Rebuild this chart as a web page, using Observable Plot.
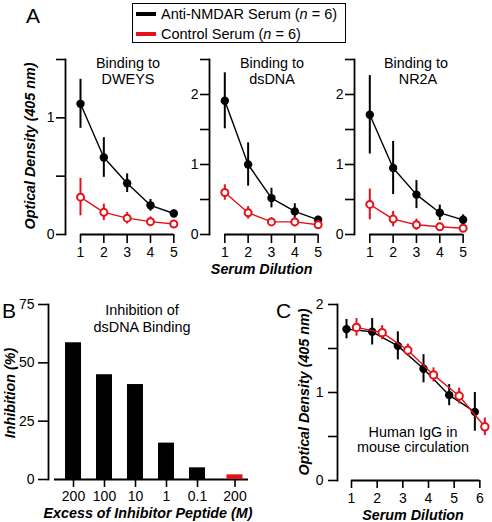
<!DOCTYPE html>
<html>
<head>
<meta charset="utf-8">
<script src="https://cdn.jsdelivr.net/npm/d3@7"></script>
<script src="https://cdn.jsdelivr.net/npm/@observablehq/plot@0.6"></script>
<style>
  body { margin: 0; background: #fff; }
  #fig { position: relative; width: 492px; height: 522px; overflow: hidden;
         font-family: "Liberation Sans", Arial, sans-serif; color: #000; background: #fff; }
  #fig svg { position: absolute; left: 0; top: 0; }
  .t { position: absolute; white-space: nowrap; line-height: 1; font-size: 14.4px;
       transform: translate(-50%, -50%); }
  .lab { font-weight: bold; font-style: italic; font-size: 14.3px; }
  .rot { transform: translate(-50%, -50%) rotate(-90deg); }
  .letter { font-size: 21px; }
  #legend { position: absolute; left: 132px; top: 3px; width: 212px; height: 38px;
            border: 1.5px solid #000; font-size: 14.5px; line-height: 1; }
  #legend .row { position: absolute; left: 3px; white-space: nowrap; }
  #legend .sw { display: inline-block; width: 20px; height: 4px; vertical-align: middle;
                margin-right: 5px; position: relative; top: -1px; }
</style>
</head>
<body>
<div id="fig"></div>
<script>
// ---------- data ----------
const dilutionsA = [1, 2, 3, 4, 5];

const dweysAntiMean = [1.12, 0.66, 0.44, 0.25, 0.18];
const dweysAntiErr  = [0.21, 0.17, 0.08, 0.05, 0.03];
const dweysCtrlMean = [0.32, 0.19, 0.14, 0.11, 0.09];
const dweysCtrlErr  = [0.16, 0.07, 0.05, 0.04, 0.03];

const dsdnaAntiMean = [1.91, 1.00, 0.52, 0.33, 0.21];
const dsdnaAntiErr  = [0.40, 0.31, 0.14, 0.11, 0.05];
const dsdnaCtrlMean = [0.60, 0.31, 0.18, 0.18, 0.14];
const dsdnaCtrlErr  = [0.11, 0.09, 0.06, 0.07, 0.06];

const nr2aAntiMean = [1.71, 0.95, 0.57, 0.31, 0.21];
const nr2aAntiErr  = [0.56, 0.38, 0.20, 0.11, 0.07];
const nr2aCtrlMean = [0.43, 0.22, 0.14, 0.11, 0.09];
const nr2aCtrlErr  = [0.22, 0.11, 0.08, 0.05, 0.03];

const peptideLabels = ["200", "100", "10", "1", "0.1", "200"];
const inhibition    = [58.6, 44.9, 40.7, 15.6, 5.0, 2.0];
const peptideSerum  = ["anti", "anti", "anti", "anti", "anti", "control"];

const dilutionsC = [1, 2, 3, 4, 5, 6];
const igAntiMean = [1.72, 1.69, 1.53, 1.27, 0.97, 0.78];
const igAntiErr  = [0.11, 0.15, 0.16, 0.16, 0.12, 0.22];
const igCtrlMean = [1.74, 1.68, 1.48, 1.20, 0.96, 0.61];
const igCtrlErr  = [0.10, 0.08, 0.07, 0.08, 0.09, 0.10];

const BLACK = "#000000";
const RED = "#e3121b";

// ---------- helpers ----------
const rows = (xs, mean, err) => xs.map((x, i) => ({x, y: mean[i], lo: mean[i] - err[i], hi: mean[i] + err[i]}));

function seriesMarks(data, color, filled, r, dx = 0) {
  return [
    Plot.line(data, {x: "x", y: "y", stroke: color, strokeWidth: 1.4, dx}),
    Plot.ruleX(data, {x: "x", y1: "lo", y2: "hi", stroke: color, strokeWidth: 2, dx}),
    Plot.dot(data, {x: "x", y: "y", r, fill: filled ? color : "white",
                    stroke: filled ? "none" : color, strokeWidth: 2, dx})
  ];
}

const baseStyle = {background: "transparent", overflow: "visible", fontSize: "14px",
                   fontFamily: "'Liberation Sans', Arial, sans-serif", color: "#000"};
const fig = document.getElementById("fig");

// ---------- panel A subplots ----------
function panelA(axisLeft, x1px, yMax, yTicks, anti, ctrl) {
  const step = 23.33;
  const xRight = x1px + 4 * step;
  return Plot.plot({
    width: 492, height: 522,
    marginLeft: axisLeft, marginRight: 492 - xRight, marginTop: 59, marginBottom: 288,
    x: {domain: [1, 5], range: [x1px, xRight]},
    y: {domain: [0, yMax]},
    style: baseStyle,
    marks: [
      Plot.frame({anchor: "left", strokeWidth: 1.8}),
      Plot.ruleY([0], {insetLeft: x1px - axisLeft, strokeWidth: 1.8}),
      Plot.axisY({ticks: yTicks, tickSize: 9, tickPadding: 2, strokeWidth: 1.6, label: null,
                  tickFormat: d => Number.isInteger(d) ? String(d) : ""}),
      Plot.axisX({ticks: dilutionsA, tickSize: 9, tickPadding: 4, strokeWidth: 1.6, label: null,
                  tickFormat: d => String(d)}),
      ...seriesMarks(anti, BLACK, true, 4.2),
      ...seriesMarks(ctrl, RED, false, 3.5)
    ]
  });
}

fig.append(panelA(65, 80, 1.5, [0, 0.5, 1, 1.5],
  rows(dilutionsA, dweysAntiMean, dweysAntiErr), rows(dilutionsA, dweysCtrlMean, dweysCtrlErr)));
fig.append(panelA(209, 224.3, 2.5, [0, 0.5, 1, 1.5, 2, 2.5],
  rows(dilutionsA, dsdnaAntiMean, dsdnaAntiErr), rows(dilutionsA, dsdnaCtrlMean, dsdnaCtrlErr)));
fig.append(panelA(354, 369.3, 2.5, [0, 0.5, 1, 1.5, 2, 2.5],
  rows(dilutionsA, nr2aAntiMean, nr2aAntiErr), rows(dilutionsA, nr2aCtrlMean, nr2aCtrlErr)));

// ---------- panel B ----------
const barData = peptideLabels.map((label, i) => ({i, label, value: inhibition[i], serum: peptideSerum[i]}));
const idx = d3.range(peptideLabels.length);
fig.append(Plot.plot({
  width: 492, height: 522,
  marginLeft: 48, marginRight: 492 - 248, marginTop: 304, marginBottom: 43,
  x: {type: "band", domain: idx, range: [49.45, 250.95], paddingInner: 0.5, paddingOuter: 0.5},
  y: {domain: [0, 75]},
  style: baseStyle,
  marks: [
    Plot.frame({anchor: "left", strokeWidth: 1.8}),
    Plot.ruleY([0], {insetLeft: 6, strokeWidth: 1.8}),
    Plot.axisY({ticks: [0, 25, 50, 75], tickSize: 10, tickPadding: 4, strokeWidth: 1.6, label: null}),
    Plot.axisX({ticks: idx.filter(i => peptideSerum[i] === "anti"), tickSize: 8, tickPadding: 3.5,
                strokeWidth: 1.6, label: null, tickFormat: i => peptideLabels[i]}),
    Plot.axisX({ticks: idx.filter(i => peptideSerum[i] === "control"), tickSize: 8, tickPadding: 3.5,
                strokeWidth: 1.6, label: null, tickFormat: i => peptideLabels[i], dx: 6.5}),
    Plot.barY(barData.filter(d => d.serum === "anti"), {x: "i", y: "value", fill: BLACK}),
    Plot.barY(barData.filter(d => d.serum === "control"), {x: "i", y: "value", fill: RED, dx: 6.5})
  ]
}));

// ---------- panel C ----------
const cStep = 25.67;
fig.append(Plot.plot({
  width: 492, height: 522,
  marginLeft: 337, marginRight: 492 - (351 + 5 * cStep), marginTop: 304, marginBottom: 42,
  x: {domain: [1, 6], range: [351, 351 + 5 * cStep]},
  y: {domain: [0, 2]},
  style: baseStyle,
  marks: [
    Plot.frame({anchor: "left", strokeWidth: 1.8}),
    Plot.ruleY([0], {insetLeft: 14, strokeWidth: 1.8}),
    Plot.axisY({ticks: [0, 0.5, 1, 1.5, 2], tickSize: 9, tickPadding: 5, strokeWidth: 1.6, label: null,
                tickFormat: d => Number.isInteger(d) ? String(d) : ""}),
    Plot.axisX({ticks: dilutionsC, tickSize: 8, tickPadding: 4.5, strokeWidth: 1.6, label: null,
                tickFormat: d => String(d)}),
    ...seriesMarks(rows(dilutionsC, igAntiMean, igAntiErr), BLACK, true, 4.2, -5),
    ...seriesMarks(rows(dilutionsC, igCtrlMean, igCtrlErr), RED, false, 3.7, 5)
  ]
}));

// ---------- text ----------
function txt(s, x, y, cls = "") {
  const d = document.createElement("div");
  d.className = "t " + cls;
  d.innerHTML = s;
  d.style.left = x + "px";
  d.style.top = y + "px";
  fig.append(d);
}
txt("A", 33, 15, "letter");
txt("B", 9, 310, "letter");
txt("C", 283.5, 310, "letter");

txt("Binding to", 128, 63); txt("DWEYS", 128, 79);
txt("Binding to", 272, 63); txt("dsDNA", 272, 79);
txt("Binding to", 416, 63); txt("NR2A", 418, 79);
txt("Inhibition of", 142, 310); txt("dsDNA Binding", 142, 327);
txt("Human IgG in", 413, 432); txt("mouse circulation", 413, 447);

txt("Optical Density (405 nm)", 30, 146, "lab rot");
txt("Serum Dilution", 261.7, 269, "lab");
txt("Inhibition (%)", 10, 393, "lab rot");
txt("Excess of Inhibitor Peptide (M)", 148, 513, "lab");
txt("Optical Density (405 nm)", 303.5, 392, "lab rot");
txt("Serum Dilution", 413, 515, "lab");

// legend
const legend = document.createElement("div");
legend.id = "legend";
legend.innerHTML =
  `<div class="row" style="top:3px"><span class="sw" style="background:${BLACK}"></span>Anti-NMDAR Serum (<i>n</i> = 6)</div>` +
  `<div class="row" style="top:23px"><span class="sw" style="background:${RED}"></span>Control Serum (<i>n</i> = 6)</div>`;
fig.append(legend);
</script>
</body>
</html>
